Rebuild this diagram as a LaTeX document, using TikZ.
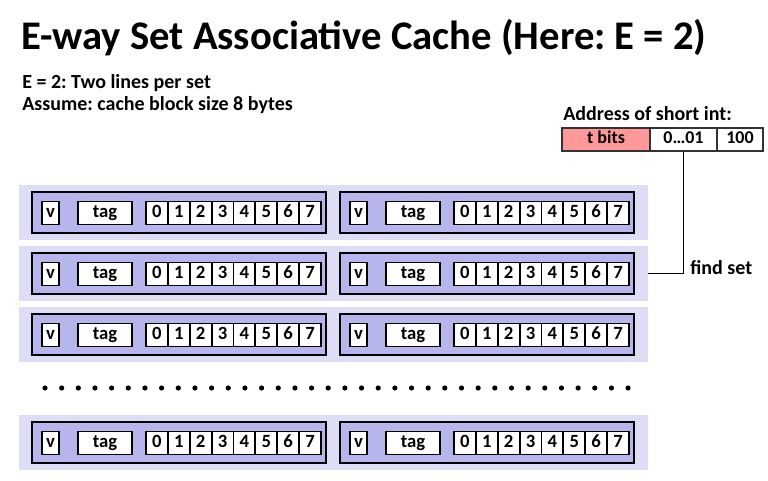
\documentclass[tikz,border=0pt]{standalone}
\usepackage{fontspec}
\setmainfont{Carlito}
\usepackage{tikz}
\usetikzlibrary{positioning,calc}

\definecolor{bandfill}{RGB}{221,221,246}
\definecolor{linefill}{RGB}{182,182,236}
\definecolor{tbitfill}{RGB}{255,153,153}
\newcommand\pxu{0.75pt}
\frenchspacing

\begin{document}
\begin{tikzpicture}[
  x=0.75pt, y=-0.75pt,
  font=\bfseries,
  setband/.style={rectangle, draw=none, fill=bandfill, minimum width=629*\pxu, minimum height=55*\pxu, inner sep=0pt},
  linebox/.style={rectangle, draw=black, line width=1.9pt, fill=linefill, minimum width=294*\pxu, minimum height=41*\pxu, inner sep=0pt},
  cell/.style={rectangle, draw=black, line width=1.4pt, fill=white, minimum height=23*\pxu, inner sep=0pt,
               font=\fontsize{14}{15}\bfseries, text height=0.62em, text depth=0pt},
  addr/.style={rectangle, draw=black!80, line width=0.8pt, fill=white, minimum height=23*\pxu, inner sep=0pt,
               font=\fontsize{13.5}{15}\bfseries, text height=0.62em, text depth=0pt},
  txt/.style={anchor=base west, inner sep=0pt, font=\fontsize{15}{17}\bfseries},
  wire/.style={draw=black, line width=1.1pt},
]
\useasboundingbox (0,0) rectangle (768,481);

% title and notes
\node[anchor=base west, inner sep=0pt, font=\fontsize{30.5}{34}\bfseries] (title) at (21,50) {E-way Set Associative Cache (Here: E = 2)};
\node[txt] (note1) at (22,89) {E = 2: Two lines per set};
\node[txt] (note2) at (22,111) {Assume: cache block size 8 bytes};

% sets, two lines each
\foreach \r/\T in {0/185,1/246,2/307,3/415} {
  \node[setband] (set\r) at (333.5,\T+27.5) {};
  \foreach \w/\L in {0/32,1/340} {
    \node[linebox] (line\r\w) at (\L+147,\T+27.5) {};
    \node[cell, minimum width=17*\pxu] (v\r\w) at (\L+18.5,\T+28) {v};
    \node[cell, minimum width=54*\pxu] (tag\r\w) at (\L+73,\T+28) {tag};
    \foreach \b in {0,...,7}
      \node[cell, minimum width=21.875*\pxu] (b\r\w\b) at ({\L+114+21.875*(\b+0.5)},\T+28) {\b};
  }
}

% more sets
\foreach \i in {0,...,35} \fill[black] ({45+16.66*\i},388) circle[radius=2.6];

% address
\node[txt] (addrlbl) at (563,121) {Address of short int:};
\node[addr, fill=tbitfill, minimum width=88*\pxu] (tbits) at (606,139.5) {t bits};
\node[addr, minimum width=67*\pxu] (mid) at (683.5,139.5) {0…01};
\node[addr, minimum width=46*\pxu] (off) at (740,139.5) {100};

% find set
\draw[wire] (mid.south) |- (set1.east);
\node[txt] (find) at (690,274) {find set};

\end{tikzpicture}
\end{document}
